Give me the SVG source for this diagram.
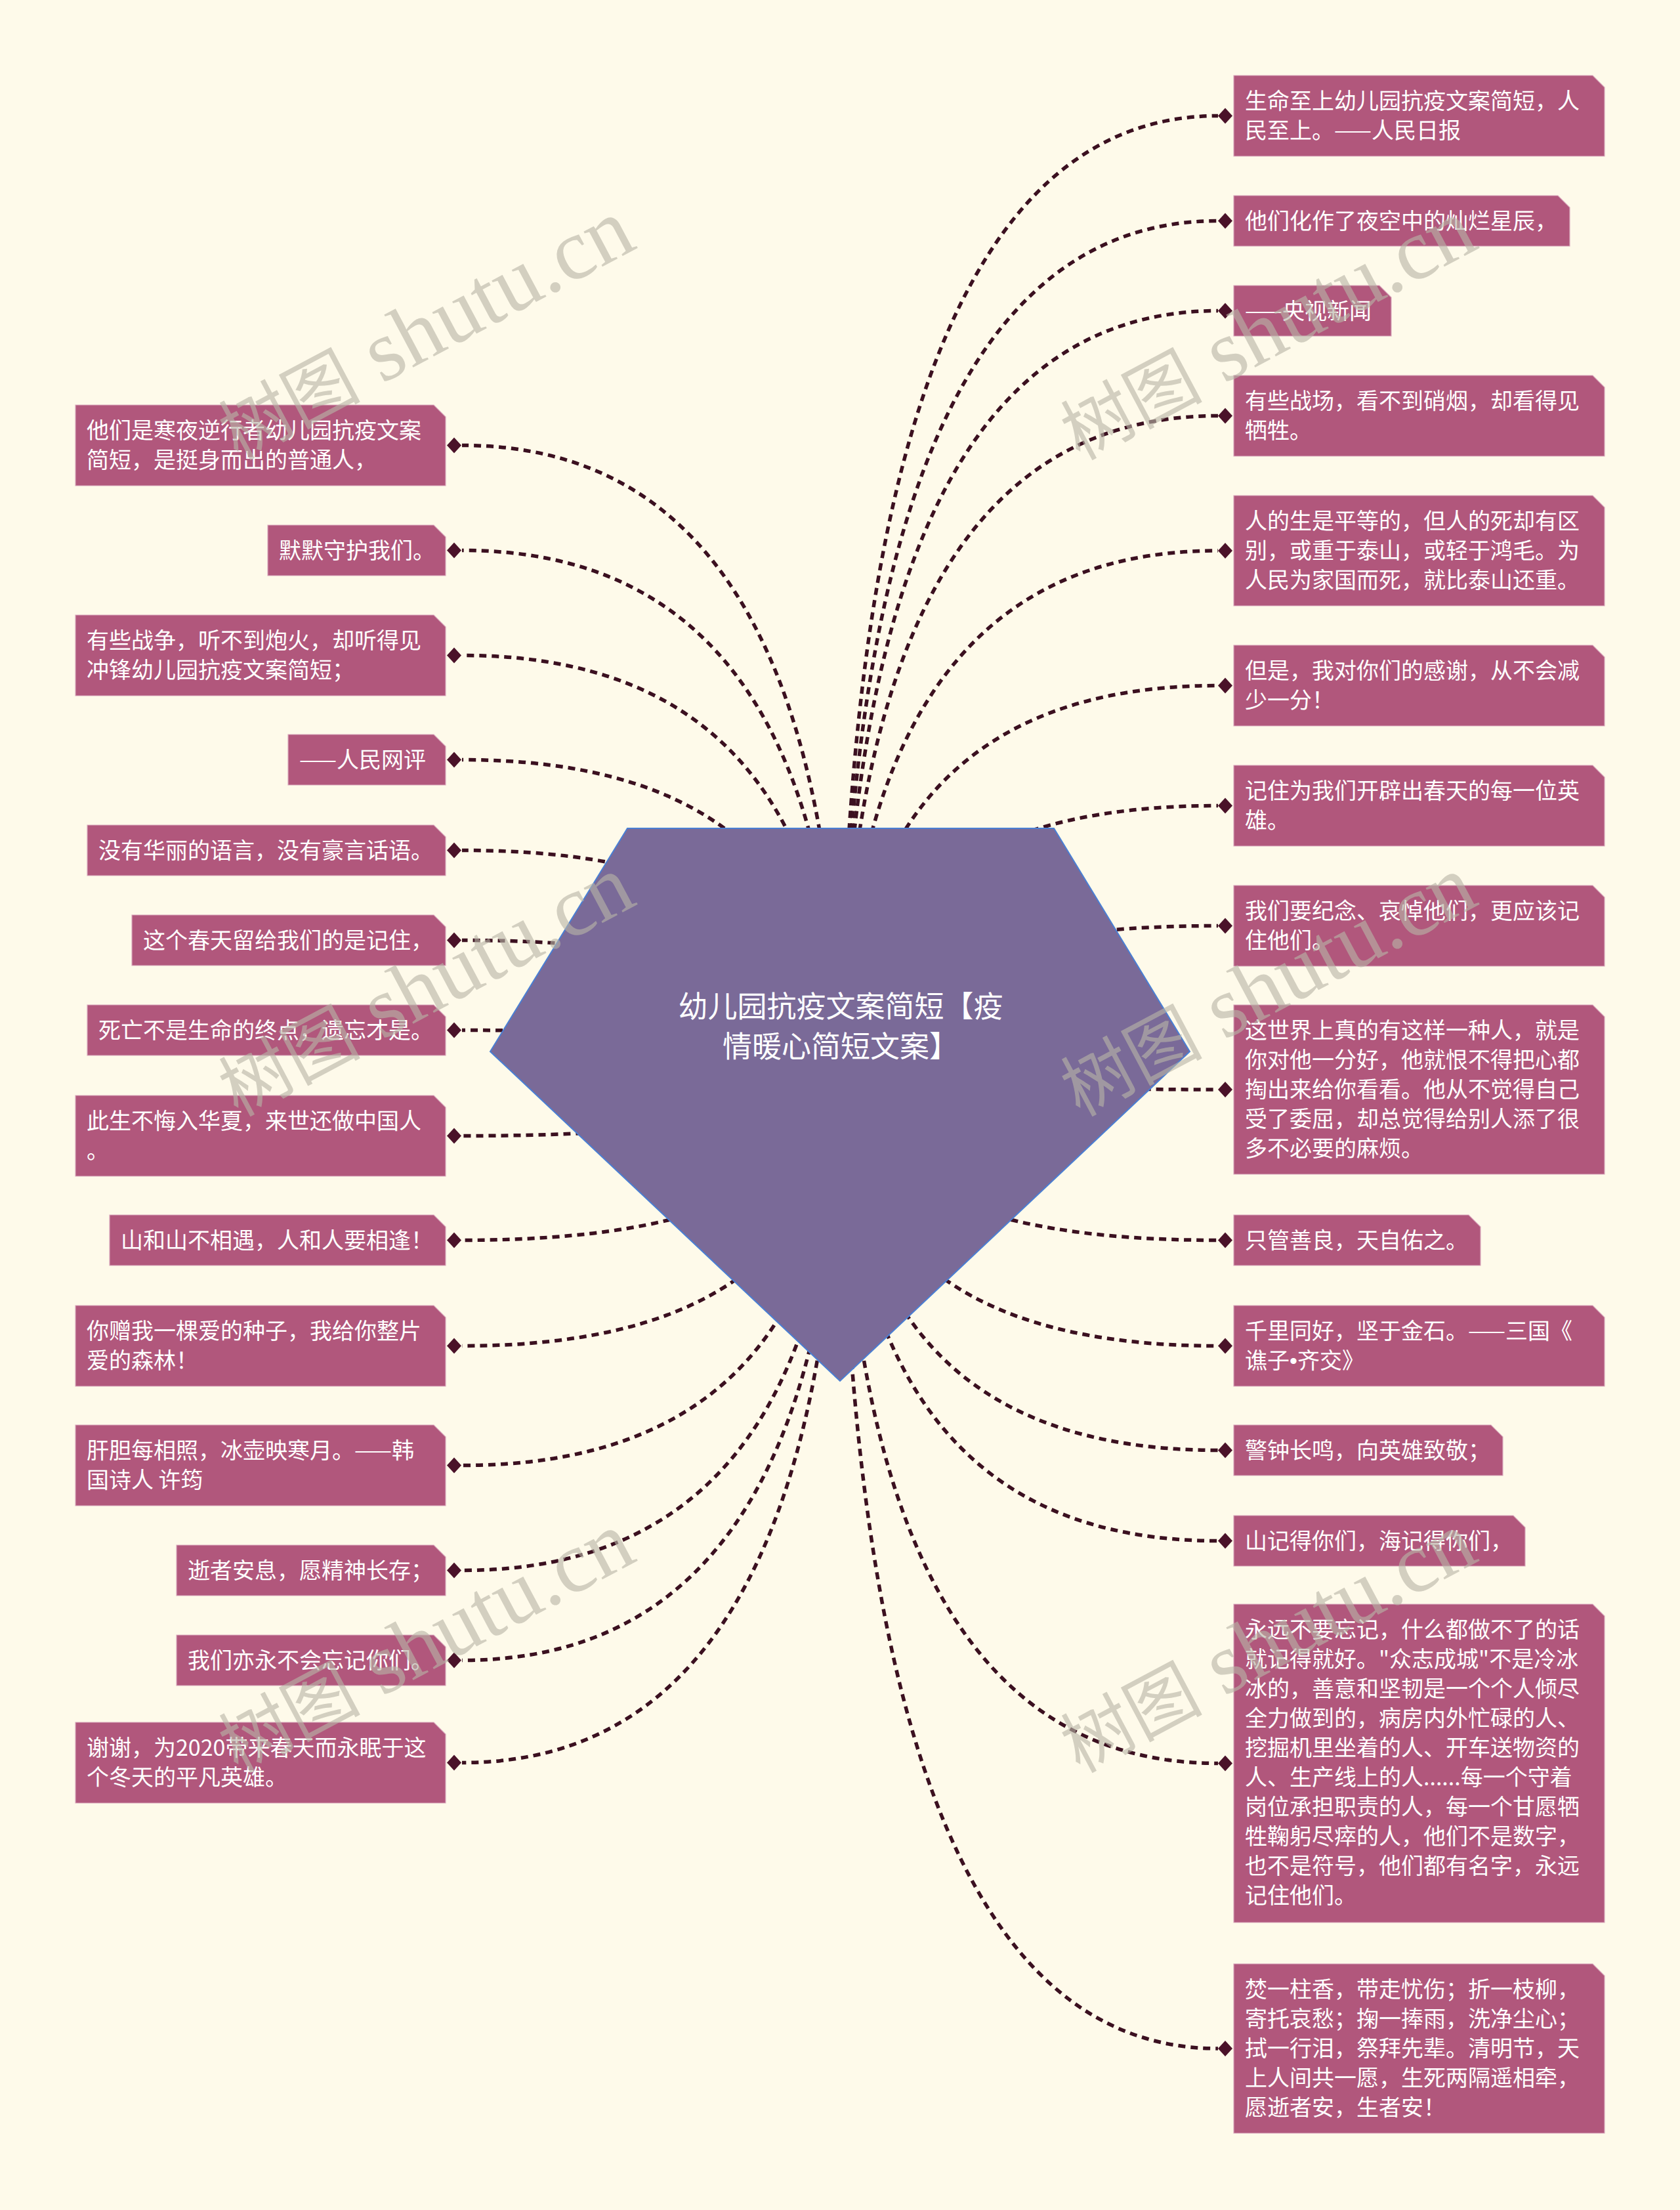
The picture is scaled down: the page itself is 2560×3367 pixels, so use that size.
<svg xmlns="http://www.w3.org/2000/svg" width="2560" height="3367" viewBox="0 0 2560 3367">
<style>
.bg{fill:#fefaea}
.box{fill:#b1577c;stroke:#d9a9bd;stroke-width:1.2}
.t{fill:#ffffff;font-family:"Noto Sans CJK SC","Noto Sans",sans-serif;font-size:34px}
.ct{fill:#ffffff;font-family:"Noto Sans CJK SC","Noto Sans",sans-serif;font-size:45px;text-anchor:middle}
.ln{fill:none;stroke:#3b1020;stroke-width:5.5;stroke-dasharray:11 8}
.dm{fill:#4a1229}
.wm{fill:#b8b4a6;fill-opacity:0.62;font-family:"Liberation Serif","Noto Sans CJK SC",serif}
</style>
<rect class="bg" x="0" y="0" width="2560" height="3367"/>
<g id="connectors">
<path class="ln" d="M1281 1683 Q1281 176.5 1856 176.5"/>
<path class="ln" d="M1281 1683 Q1281 336.5 1856 336.5"/>
<path class="ln" d="M1281 1683 Q1281 473.5 1856 473.5"/>
<path class="ln" d="M1281 1683 Q1281 633.5 1856 633.5"/>
<path class="ln" d="M1281 1683 Q1281 839 1856 839"/>
<path class="ln" d="M1281 1683 Q1281 1044.5 1856 1044.5"/>
<path class="ln" d="M1281 1683 Q1281 1227.5 1856 1227.5"/>
<path class="ln" d="M1281 1683 Q1281 1410.5 1856 1410.5"/>
<path class="ln" d="M1281 1600 Q1281 1660 1856 1660"/>
<path class="ln" d="M1281 1600 Q1281 1889.5 1856 1889.5"/>
<path class="ln" d="M1281 1600 Q1281 2050.5 1856 2050.5"/>
<path class="ln" d="M1281 1600 Q1281 2209.5 1856 2209.5"/>
<path class="ln" d="M1281 1600 Q1281 2347.5 1856 2347.5"/>
<path class="ln" d="M1281 1600 Q1281 2686.5 1856 2686.5"/>
<path class="ln" d="M1281 1600 Q1281 3121 1856 3121"/>
<path class="ln" d="M1281 1683 Q1281 678.5 704 678.5"/>
<path class="ln" d="M1281 1683 Q1281 838.5 704 838.5"/>
<path class="ln" d="M1281 1683 Q1281 998.5 704 998.5"/>
<path class="ln" d="M1281 1683 Q1281 1157.5 704 1157.5"/>
<path class="ln" d="M1281 1683 Q1281 1295.5 704 1295.5"/>
<path class="ln" d="M1281 1683 Q1281 1432.5 704 1432.5"/>
<path class="ln" d="M1281 1683 Q1281 1569.5 704 1569.5"/>
<path class="ln" d="M1281 1600 Q1281 1730.5 704 1730.5"/>
<path class="ln" d="M1281 1600 Q1281 1889.5 704 1889.5"/>
<path class="ln" d="M1281 1600 Q1281 2050.5 704 2050.5"/>
<path class="ln" d="M1281 1600 Q1281 2232.5 704 2232.5"/>
<path class="ln" d="M1281 1600 Q1281 2392.5 704 2392.5"/>
<path class="ln" d="M1281 1600 Q1281 2529.5 704 2529.5"/>
<path class="ln" d="M1281 1600 Q1281 2685.5 704 2685.5"/>
<g class="dm">
<polygon points="1856,176.5 1867,164.5 1878,176.5 1867,188.5"/>
<polygon points="1856,336.5 1867,324.5 1878,336.5 1867,348.5"/>
<polygon points="1856,473.5 1867,461.5 1878,473.5 1867,485.5"/>
<polygon points="1856,633.5 1867,621.5 1878,633.5 1867,645.5"/>
<polygon points="1856,839 1867,827 1878,839 1867,851"/>
<polygon points="1856,1044.5 1867,1032.5 1878,1044.5 1867,1056.5"/>
<polygon points="1856,1227.5 1867,1215.5 1878,1227.5 1867,1239.5"/>
<polygon points="1856,1410.5 1867,1398.5 1878,1410.5 1867,1422.5"/>
<polygon points="1856,1660 1867,1648 1878,1660 1867,1672"/>
<polygon points="1856,1889.5 1867,1877.5 1878,1889.5 1867,1901.5"/>
<polygon points="1856,2050.5 1867,2038.5 1878,2050.5 1867,2062.5"/>
<polygon points="1856,2209.5 1867,2197.5 1878,2209.5 1867,2221.5"/>
<polygon points="1856,2347.5 1867,2335.5 1878,2347.5 1867,2359.5"/>
<polygon points="1856,2686.5 1867,2674.5 1878,2686.5 1867,2698.5"/>
<polygon points="1856,3121 1867,3109 1878,3121 1867,3133"/>
<polygon points="681,678.5 692,666.5 703,678.5 692,690.5"/>
<polygon points="681,838.5 692,826.5 703,838.5 692,850.5"/>
<polygon points="681,998.5 692,986.5 703,998.5 692,1010.5"/>
<polygon points="681,1157.5 692,1145.5 703,1157.5 692,1169.5"/>
<polygon points="681,1295.5 692,1283.5 703,1295.5 692,1307.5"/>
<polygon points="681,1432.5 692,1420.5 703,1432.5 692,1444.5"/>
<polygon points="681,1569.5 692,1557.5 703,1569.5 692,1581.5"/>
<polygon points="681,1730.5 692,1718.5 703,1730.5 692,1742.5"/>
<polygon points="681,1889.5 692,1877.5 703,1889.5 692,1901.5"/>
<polygon points="681,2050.5 692,2038.5 703,2050.5 692,2062.5"/>
<polygon points="681,2232.5 692,2220.5 703,2232.5 692,2244.5"/>
<polygon points="681,2392.5 692,2380.5 703,2392.5 692,2404.5"/>
<polygon points="681,2529.5 692,2517.5 703,2529.5 692,2541.5"/>
<polygon points="681,2685.5 692,2673.5 703,2685.5 692,2697.5"/>
</g>
</g>
<g id="center">
<polygon points="956,1262 1606,1262 1813,1602 1280,2104 747,1602" fill="#7a6a98" stroke="#4a7fd4" stroke-width="2"/>
<text class="ct" x="1281" y="1550">幼儿园抗疫文案简短【疫</text>
<text class="ct" x="1281" y="1611">情暖心简短文案】</text>
</g>
<g id="R1"><path class="box" d="M1880 115 H2427 L2445 133 V238 H1880 Z"/><text class="t" x="1897" y="166">生命至上幼儿园抗疫文案简短，人</text><text class="t" x="1897" y="211">民至上。——人民日报</text></g>
<g id="R2"><path class="box" d="M1880 298 H2374 L2392 316 V375 H1880 Z"/><text class="t" x="1897" y="349">他们化作了夜空中的灿烂星辰，</text></g>
<g id="R3"><path class="box" d="M1880 435 H2102 L2120 453 V512 H1880 Z"/><text class="t" x="1897" y="486">——央视新闻</text></g>
<g id="R4"><path class="box" d="M1880 572 H2427 L2445 590 V695 H1880 Z"/><text class="t" x="1897" y="623">有些战场，看不到硝烟，却看得见</text><text class="t" x="1897" y="668">牺牲。</text></g>
<g id="R5"><path class="box" d="M1880 755 H2427 L2445 773 V923 H1880 Z"/><text class="t" x="1897" y="806">人的生是平等的，但人的死却有区</text><text class="t" x="1897" y="851">别，或重于泰山，或轻于鸿毛。为</text><text class="t" x="1897" y="896">人民为家国而死，就比泰山还重。</text></g>
<g id="R6"><path class="box" d="M1880 983 H2427 L2445 1001 V1106 H1880 Z"/><text class="t" x="1897" y="1034">但是，我对你们的感谢，从不会减</text><text class="t" x="1897" y="1079">少一分！</text></g>
<g id="R7"><path class="box" d="M1880 1166 H2427 L2445 1184 V1289 H1880 Z"/><text class="t" x="1897" y="1217">记住为我们开辟出春天的每一位英</text><text class="t" x="1897" y="1262">雄。</text></g>
<g id="R8"><path class="box" d="M1880 1349 H2427 L2445 1367 V1472 H1880 Z"/><text class="t" x="1897" y="1400">我们要纪念、哀悼他们，更应该记</text><text class="t" x="1897" y="1445">住他们。</text></g>
<g id="R9"><path class="box" d="M1880 1531 H2427 L2445 1549 V1789 H1880 Z"/><text class="t" x="1897" y="1582">这世界上真的有这样一种人，就是</text><text class="t" x="1897" y="1627">你对他一分好，他就恨不得把心都</text><text class="t" x="1897" y="1672">掏出来给你看看。他从不觉得自己</text><text class="t" x="1897" y="1717">受了委屈，却总觉得给别人添了很</text><text class="t" x="1897" y="1762">多不必要的麻烦。</text></g>
<g id="R10"><path class="box" d="M1880 1851 H2238 L2256 1869 V1928 H1880 Z"/><text class="t" x="1897" y="1902">只管善良，天自佑之。</text></g>
<g id="R11"><path class="box" d="M1880 1989 H2427 L2445 2007 V2112 H1880 Z"/><text class="t" x="1897" y="2040">千里同好，坚于金石。——三国《</text><text class="t" x="1897" y="2085">谯子<tspan font-family="Liberation Sans, sans-serif">•</tspan>齐交》</text></g>
<g id="R12"><path class="box" d="M1880 2171 H2272 L2290 2189 V2248 H1880 Z"/><text class="t" x="1897" y="2222">警钟长鸣，向英雄致敬；</text></g>
<g id="R13"><path class="box" d="M1880 2309 H2306 L2324 2327 V2386 H1880 Z"/><text class="t" x="1897" y="2360">山记得你们，海记得你们，</text></g>
<g id="R14"><path class="box" d="M1880 2444 H2427 L2445 2462 V2929 H1880 Z"/>
<text class="t" x="1897" y="2495">永远不要忘记，什么都做不了的话</text>
<text class="t" x="1897" y="2540">就记得就好。"众志成城"不是冷冰</text>
<text class="t" x="1897" y="2585">冰的，善意和坚韧是一个个人倾尽</text>
<text class="t" x="1897" y="2630">全力做到的，病房内外忙碌的人、</text>
<text class="t" x="1897" y="2675">挖掘机里坐着的人、开车送物资的</text>
<text class="t" x="1897" y="2720">人、生产线上的人......每一个守着</text>
<text class="t" x="1897" y="2765">岗位承担职责的人，每一个甘愿牺</text>
<text class="t" x="1897" y="2810">牲鞠躬尽瘁的人，他们不是数字，</text>
<text class="t" x="1897" y="2855">也不是符号，他们都有名字，永远</text>
<text class="t" x="1897" y="2900">记住他们。</text></g>
<g id="R15"><path class="box" d="M1880 2992 H2427 L2445 3010 V3250 H1880 Z"/>
<text class="t" x="1897" y="3043">焚一柱香，带走忧伤；折一枝柳，</text>
<text class="t" x="1897" y="3088">寄托哀愁；掬一捧雨，洗净尘心；</text>
<text class="t" x="1897" y="3133">拭一行泪，祭拜先辈。清明节，天</text>
<text class="t" x="1897" y="3178">上人间共一愿，生死两隔遥相牵，</text>
<text class="t" x="1897" y="3223">愿逝者安，生者安！</text></g>
<g id="L1"><path class="box" d="M115 617 H661 L679 635 V740 H115 Z"/><text class="t" x="132" y="668">他们是寒夜逆行者幼儿园抗疫文案</text><text class="t" x="132" y="713">简短，是挺身而出的普通人，</text></g>
<g id="L2"><path class="box" d="M408 800 H661 L679 818 V877 H408 Z"/><text class="t" x="425" y="851">默默守护我们。</text></g>
<g id="L3"><path class="box" d="M115 937 H661 L679 955 V1060 H115 Z"/><text class="t" x="132" y="988">有些战争，听不到炮火，却听得见</text><text class="t" x="132" y="1033">冲锋幼儿园抗疫文案简短；</text></g>
<g id="L4"><path class="box" d="M439 1119 H661 L679 1137 V1196 H439 Z"/><text class="t" x="456" y="1170">——人民网评</text></g>
<g id="L5"><path class="box" d="M133 1257 H661 L679 1275 V1334 H133 Z"/><text class="t" x="150" y="1308">没有华丽的语言，没有豪言话语。</text></g>
<g id="L6"><path class="box" d="M201 1394 H661 L679 1412 V1471 H201 Z"/><text class="t" x="218" y="1445">这个春天留给我们的是记住，</text></g>
<g id="L7"><path class="box" d="M133 1531 H661 L679 1549 V1608 H133 Z"/><text class="t" x="150" y="1582">死亡不是生命的终点，遗忘才是。</text></g>
<g id="L8"><path class="box" d="M115 1669 H661 L679 1687 V1792 H115 Z"/><text class="t" x="132" y="1720">此生不悔入华夏，来世还做中国人</text><text class="t" x="132" y="1765">。</text></g>
<g id="L9"><path class="box" d="M167 1851 H661 L679 1869 V1928 H167 Z"/><text class="t" x="184" y="1902">山和山不相遇，人和人要相逢！</text></g>
<g id="L10"><path class="box" d="M115 1989 H661 L679 2007 V2112 H115 Z"/><text class="t" x="132" y="2040">你赠我一棵爱的种子，我给你整片</text><text class="t" x="132" y="2085">爱的森林！</text></g>
<g id="L11"><path class="box" d="M115 2171 H661 L679 2189 V2294 H115 Z"/><text class="t" x="132" y="2222">肝胆每相照，冰壶映寒月。——韩</text><text class="t" x="132" y="2267">国诗人 许筠</text></g>
<g id="L12"><path class="box" d="M269 2354 H661 L679 2372 V2431 H269 Z"/><text class="t" x="286" y="2405">逝者安息，愿精神长存；</text></g>
<g id="L13"><path class="box" d="M269 2491 H661 L679 2509 V2568 H269 Z"/><text class="t" x="286" y="2542">我们亦永不会忘记你们。</text></g>
<g id="L14"><path class="box" d="M115 2624 H661 L679 2642 V2747 H115 Z"/><text class="t" x="132" y="2675">谢谢，为2020带来春天而永眠于这</text><text class="t" x="132" y="2720">个冬天的平凡英雄。</text></g>
<g id="watermarks" class="wm">
<text transform="translate(362 702) rotate(-28)"><tspan font-size="108">树图</tspan><tspan font-size="132"> shutu.cn</tspan></text>
<text transform="translate(1645 702) rotate(-28)"><tspan font-size="108">树图</tspan><tspan font-size="132"> shutu.cn</tspan></text>
<text transform="translate(362 1702) rotate(-28)"><tspan font-size="108">树图</tspan><tspan font-size="132"> shutu.cn</tspan></text>
<text transform="translate(1645 1702) rotate(-28)"><tspan font-size="108">树图</tspan><tspan font-size="132"> shutu.cn</tspan></text>
<text transform="translate(362 2702) rotate(-28)"><tspan font-size="108">树图</tspan><tspan font-size="132"> shutu.cn</tspan></text>
<text transform="translate(1645 2702) rotate(-28)"><tspan font-size="108">树图</tspan><tspan font-size="132"> shutu.cn</tspan></text>
</g>
</svg>
